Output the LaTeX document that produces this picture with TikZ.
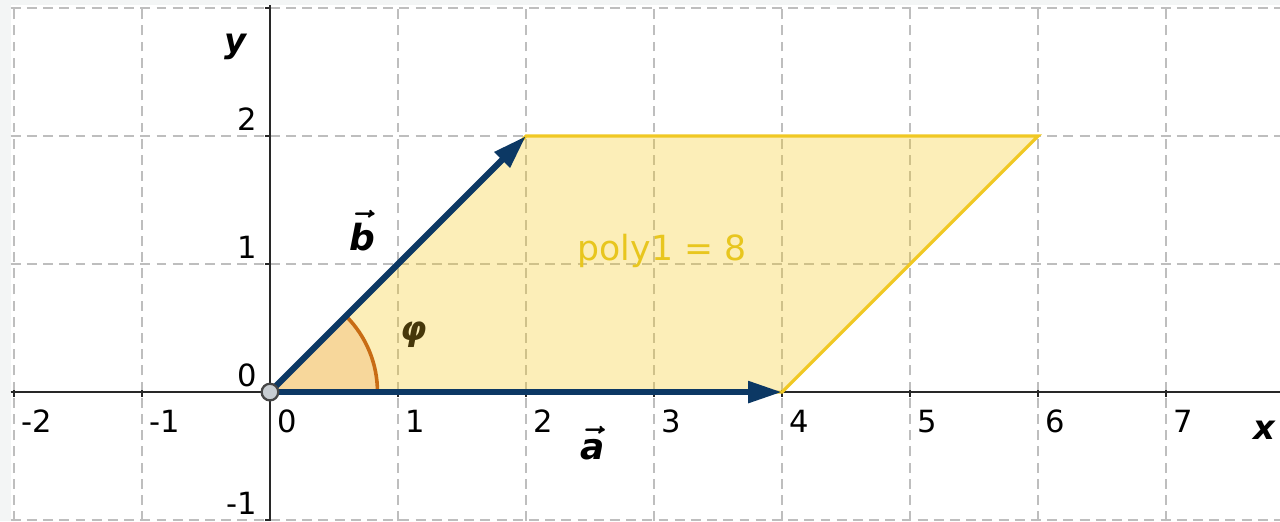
\documentclass[tikz,border=0pt]{standalone}
\usepackage{fontspec}
\setmainfont{DejaVu Sans}
\usetikzlibrary{arrows.meta}

\definecolor{vecblue}{RGB}{12,56,100}
\definecolor{polybase}{RGB}{248,200,20}
\definecolor{polyline}{RGB}{240,200,35}
\definecolor{polytext}{RGB}{232,198,30}
\definecolor{anglefill}{RGB}{247,215,155}
\definecolor{angleline}{RGB}{200,108,20}
\definecolor{phicol}{RGB}{70,55,10}
\definecolor{gridgray}{RGB}{190,190,190}
\definecolor{bggray}{RGB}{243,245,245}
\definecolor{axisgray}{RGB}{40,40,40}
\definecolor{ptfill}{RGB}{200,205,210}
\definecolor{ptdraw}{RGB}{70,70,70}

\newcommand{\veclabel}[1]{{\boldmath$\vec{\mbox{\raisebox{0pt}[\dimexpr\height+0.6pt]{\bfseries\itshape #1}}}$}}

\begin{document}
\begin{tikzpicture}[x=1cm,y=1cm,font=\fontsize{6.8}{8}\selectfont,
  gridline/.style={gridgray,line width=0.35pt,dash pattern=on 2.2pt off 1.4pt},
  vecarrow/.style={vecblue,line width=1.35pt,-{Triangle[length=7.5pt,width=4.6pt]}},
  xtick/.style={anchor=north west,inner sep=1pt},
  ytick/.style={anchor=south east,inner sep=1pt}]
\fill[bggray] (-2.109,-1.008) rectangle (7.891,3.063);
\fill[white] (-2.025,-1.008) rectangle (7.891,3.025);
\useasboundingbox (-2.109,-1.008) rectangle (7.891,3.063);
% grid
\foreach \i in {-2,...,7} \draw[gridline] (\i,-1.008) -- (\i,3.025);
\foreach \j in {-1,...,3} \draw[gridline] (-2.025,\j) -- (7.891,\j);
\coordinate (O) at (0,0);
\coordinate (A) at (4,0);
\coordinate (B) at (2,2);
\coordinate (C) at (6,2);
% parallelogram and angle
\fill[polybase,fill opacity=0.3] (O) -- (A) -- (C) -- (B) -- cycle;
\fill[anglefill] (O) -- (0.84,0) arc[start angle=0,end angle=45,radius=0.84] -- cycle;
% axes
\draw[axisgray,line width=0.45pt] (-2.025,0) -- (7.891,0);
\draw[axisgray,line width=0.45pt] (0,-1.008) -- (0,3.025);
\foreach \i in {-2,...,7} {
  \draw[axisgray,line width=0.45pt] (\i,0.015) -- (\i,-0.035);
  \node[xtick] (xt\i) at (\i+0.02,-0.1) {\i};
}
\foreach \j in {-1,...,3} \draw[axisgray,line width=0.45pt] (0,\j) -- (-0.035,\j);
\foreach \j in {-1,...,2} \node[ytick] (yt\j) at (-0.06,\j) {\j};
\draw[polyline,line width=0.7pt] (O) -- (A) -- (C) -- (B) -- cycle;
\draw[angleline,line width=0.8pt] (0.84,0) arc[start angle=0,end angle=45,radius=0.84];
% vectors
\draw[vecarrow] (O) -- (A);
\draw[vecarrow] (O) -- (B);
\filldraw[fill=ptfill,draw=ptdraw,line width=0.5pt] (O) circle[radius=0.065];
% labels
\node[font=\fontsize{7.5}{9}\selectfont] (xlab) at (7.77,-0.30) {\bfseries\itshape x};
\node[font=\fontsize{7.5}{9}\selectfont] (ylab) at (-0.27,2.70) {\bfseries\itshape y};
\node[font=\fontsize{8}{10}\selectfont] (alab) at (2.52,-0.40) {\veclabel{a}};
\node[font=\fontsize{8}{10}\selectfont] (blab) at (0.72,1.26) {\veclabel{b}};
\node[phicol,font=\fontsize{7.5}{9}\selectfont] (philab) at (1.12,0.45) {\bfseries\itshape φ};
\node[polytext,anchor=base west,font=\fontsize{7.7}{9}\selectfont] (polylab) at (2.28,1.03) {poly1 = 8};
\end{tikzpicture}
\end{document}
